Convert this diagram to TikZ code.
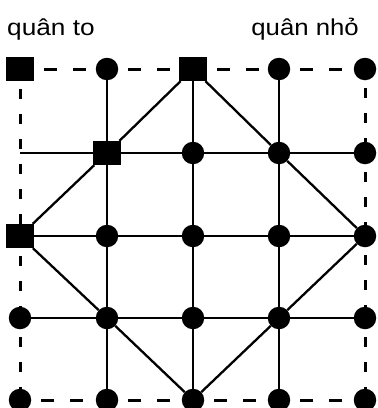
\documentclass[tikz,border=0pt]{standalone}
\usepackage{fontspec}
\setmainfont{Liberation Sans}
\usetikzlibrary{backgrounds}
\begin{document}
\begin{tikzpicture}[x=1pt,y=-1pt,
  dot/.style={circle,fill=black,inner sep=0pt,minimum size=22.5pt},
  sq/.style={rectangle,fill=black,inner sep=0pt,minimum width=28pt,minimum height=24pt},
  solidline/.style={line width=2.3pt},
  thinline/.style={line width=1.6pt},
  hdash/.style={line width=3pt,dash pattern=on 13pt off 16pt,dash phase=19pt},
  vdash/.style={line width=3pt,dash pattern=on 10pt off 15pt,dash phase=17pt},
  lbl/.style={inner sep=0pt,font=\fontsize{23}{27}\selectfont}]
\useasboundingbox (0,0) rectangle (378,408);
% labels
\node[lbl,anchor=base west] (t1) at (7,35) {\scalebox{1.14}[1]{quân to}};
\node[lbl,anchor=base east] (t2) at (359,35) {\scalebox{1.12}[1]{quân nhỏ}};
% row 0
\node[sq]  (n00) at (20,69) {};
\node[dot] (n10) at (107,69) {};
\node[sq]  (n20) at (193,69) {};
\node[dot] (n30) at (279,69) {};
\node[dot] (n40) at (365,69) {};
% row 1
\coordinate (n01) at (20,153);
\node[sq]  (n11) at (107,153) {};
\node[dot] (n21) at (193,153) {};
\node[dot] (n31) at (279,153) {};
\node[dot] (n41) at (365,153) {};
% row 2
\node[sq]  (n02) at (20,236) {};
\node[dot] (n12) at (107,236) {};
\node[dot] (n22) at (193,236) {};
\node[dot] (n32) at (279,236) {};
\node[dot] (n42) at (365,236) {};
% row 3
\node[dot] (n03) at (20,318) {};
\node[dot] (n13) at (107,318) {};
\node[dot] (n23) at (193,318) {};
\node[dot] (n33) at (279,318) {};
\node[dot] (n43) at (365,318) {};
% row 4
\node[dot] (n04) at (20,400) {};
\node[dot] (n14) at (107,400) {};
\node[dot] (n24) at (193,400) {};
\node[dot] (n34) at (279,400) {};
\node[dot] (n44) at (365,400) {};
\begin{scope}[on background layer]
  % dashed border
  \draw[hdash] (n00) -- (n10);
  \draw[hdash] (n10) -- (n20);
  \draw[hdash] (n20) -- (n30);
  \draw[hdash] (n30) -- (n40);
  \draw[hdash] (n04) -- (n14);
  \draw[hdash] (n14) -- (n24);
  \draw[hdash] (n24) -- (n34);
  \draw[hdash] (n34) -- (n44);
  \draw[vdash] (n00) -- (n02);
  \draw[vdash] (n02) -- (n03);
  \draw[vdash] (n03) -- (n04);
  \draw[vdash] (n40) -- (n41);
  \draw[vdash] (n41) -- (n42);
  \draw[vdash] (n42) -- (n43);
  \draw[vdash] (n43) -- (n44);
  % inner columns
  \draw[solidline] (n10) -- (n14);
  \draw[solidline] (n20) -- (n24);
  \draw[solidline] (n30) -- (n34);
  % inner rows
  \draw[thinline] (n01) -- (n41);
  \draw[solidline] (n02) -- (n42);
  \draw[thinline] (n03) -- (n43);
  % diamond
  \draw[solidline] (n20) -- (n11) -- (n02) -- (n13) -- (n24) -- (n33) -- (n42) -- (n31) -- (n20);
\end{scope}
\end{tikzpicture}
\end{document}
